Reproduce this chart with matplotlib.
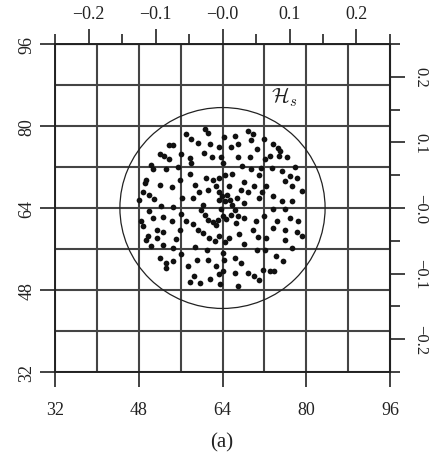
import matplotlib
matplotlib.use("Agg")
import matplotlib.pyplot as plt
from matplotlib.patches import Circle

plt.rcParams["font.family"] = ["Liberation Serif", "DejaVu Serif"]
plt.rcParams["mathtext.fontset"] = "cm"

# sample positions (grid units)
sample_x = [
    # upper left
    60.7, 61.2, 57.0, 58.0, 59.3, 61.7, 63.3, 53.8, 54.6, 52.1, 52.8, 53.8, 57.8, 60.4, 61.9, 63.7,
    50.4, 50.7, 53.3, 55.5, 49.4, 49.1, 52.0, 54.3, 55.9, 48.8, 49.9, 51.0, 48.1, 52.3, 54.6,
    # upper right
    68.8, 69.8, 66.3, 69.5, 65.6, 70.5, 66.9, 69.2, 73.7, 74.6, 75.0, 73.0, 74.8, 76.3, 71.4,
    72.4, 73.4, 75.3, 76.9, 75.9, 78.2, 77.2, 79.2, 73.7, 75.3, 77.2,
    # lower left
    48.5, 48.9, 50.8, 52.6, 54.3, 51.4, 52.6, 49.7, 49.3, 51.4, 50.4, 52.6, 54.6, 55.9, 52.0,
    53.2, 53.3, 54.6, 57.5, 59.1, 61.2, 58.5, 57.7, 59.7, 61.7, 63.5,
    # lower right
    73.7, 75.9, 76.9, 78.5, 73.7, 75.9, 78.2, 79.2, 72.4, 77.2, 64.3, 66.3, 67.5, 66.3, 68.8,
    70.1, 71.0, 66.9, 74.3, 75.6, 71.7, 73.0, 73.8,
    # centre
    57.7, 60.9, 62.1, 63.4, 64.4, 65.9, 69.4, 71.0, 68.2, 58.7, 58.3, 59.6, 61.2, 63.3, 63.9,
    63.4, 64.5, 65.4, 65.9, 66.3, 65.6, 64.7, 59.9, 60.6, 61.2, 62.1, 63.1, 64.0, 63.7, 67.5,
    68.8, 70.1, 71.0, 71.6, 57.1, 58.3, 59.3, 60.2, 61.5, 62.5, 58.7, 66.6, 68.2, 70.4, 67.2,
    65.3, 63.4, 64.4, 68.2, 69.8, 70.8, 65.3, 66.8, 68.2,
    # on the grid lines
    56.0, 56.2, 56.0, 56.1, 64.2, 64.0, 64.1, 64.0, 72.0, 72.2, 72.0, 72.1, 67.8, 77.8, 61.0,
    70.5, 62.8, 63.4, 62.7, 64.9, 60.2, 62.7, 66.9, 50.0, 55.2, 76.0, 74.5, 58.0, 67.0,
]
sample_y = [
    79.5, 78.7, 78.4, 77.5, 76.6, 76.4, 75.9, 76.2, 76.2, 74.5, 74.1, 73.5, 73.8, 74.7, 74.0, 74.0,
    72.3, 71.6, 71.7, 72.0, 69.4, 68.8, 68.4, 68.1, 69.4, 67.1, 66.5, 65.8, 65.6, 64.4, 64.2,
    79.1, 78.4, 78.0, 77.2, 75.9, 75.5, 74.0, 73.9, 76.5, 75.7, 75.1, 74.2, 74.2, 73.9, 71.9,
    68.3, 71.9, 71.3, 70.3, 69.3, 69.8, 68.3, 67.3, 66.3, 65.3, 65.3,
    61.4, 60.4, 62.0, 62.3, 61.5, 59.7, 59.3, 58.5, 57.8, 58.1, 56.5, 56.8, 56.2, 59.7, 54.3,
    53.3, 52.3, 53.7, 52.6, 53.9, 53.9, 50.7, 49.6, 49.4, 50.1, 49.1,
    63.8, 63.8, 62.0, 61.4, 60.1, 59.7, 59.4, 58.5, 58.1, 56.2, 53.9, 54.3, 53.3, 51.4, 51.4,
    50.7, 49.9, 48.8, 54.6, 53.7, 52.0, 51.7, 51.7,
    70.7, 69.8, 69.4, 69.8, 70.4, 70.7, 71.7, 70.4, 69.1, 68.5, 65.9, 67.2, 67.5, 67.2, 66.4,
    65.6, 65.3, 65.6, 64.6, 63.7, 62.7, 61.9, 63.7, 62.7, 61.7, 61.3, 61.7, 62.4, 63.9, 67.5,
    67.1, 68.3, 65.9, 67.2, 61.4, 60.8, 59.8, 59.2, 58.2, 57.6, 56.4, 61.1, 62.1, 61.4, 58.9,
    58.2, 58.5, 57.3, 56.9, 59.7, 58.3, 68.3, 66.0, 65.0,
    74.5, 66.0, 62.8, 55.0, 77.8, 72.8, 55.2, 51.8, 77.5, 73.5, 62.5, 55.8, 72.2, 72.0, 55.8,
    55.8, 52.6, 51.2, 68.2, 66.6, 64.6, 60.6, 62.4, 63.5, 58.0, 57.8, 61.5, 72.8, 76.5,
]

x_major = [32, 48, 64, 80, 96]
grid_lines = [32, 40, 48, 56, 64, 72, 80, 88, 96]
freq_major = [-0.2, -0.1, 0.0, 0.1, 0.2]
freq_minor = [-0.25, -0.15, -0.05, 0.05, 0.15, 0.25]
freq_labels = ["\u22120.2", "\u22120.1", "\u22120.0", "0.1", "0.2"]
centre = (64, 64)
radius = 19.6

fig = plt.figure(figsize=(4.3, 4.64), dpi=100)
ax = fig.add_axes([55 / 430, 91 / 464, 335 / 430, 328 / 464])
ax.set_xlim(32, 96)
ax.set_ylim(32, 96)

for g in grid_lines:
    ax.axvline(g, color="#444444", lw=1.5, zorder=1)
    ax.axhline(g, color="#444444", lw=1.5, zorder=1)

ax.add_patch(Circle(centre, radius, fill=False, ec="#222222", lw=0.9, zorder=2))
ax.scatter(sample_x, sample_y, s=17, c="#111111", lw=0, zorder=3)
ax.text(75.9, 85.9, r"$\mathcal{H}_s$", fontsize=15, ha="center", va="center", color="#222222")

for s in ax.spines.values():
    s.set_linewidth(1.4)
    s.set_color("#222222")

ax.set_xticks(x_major)
ax.set_yticks(x_major)
ax.set_xticklabels([str(v) for v in x_major])
ax.set_yticklabels([str(v) for v in x_major], rotation=90, va="center")
ax.tick_params(direction="out", length=11, width=1.2, labelsize=13, colors="#222222")
ax.tick_params(axis="x", pad=10)
ax.tick_params(axis="y", pad=3)

to_f = lambda v: (v - 64) / 128
to_v = lambda f: 64 + 128 * f

top = ax.secondary_xaxis("top", functions=(to_f, to_v))
top.set_xticks(freq_major)
top.set_xticklabels(freq_labels)
top.set_xticks(freq_minor, minor=True)
top.tick_params(which="major", direction="out", length=11, width=1.2, labelsize=13, pad=5, colors="#222222")
top.tick_params(which="minor", direction="out", length=7, width=1.2, colors="#222222")

right = ax.secondary_yaxis("right", functions=(to_f, to_v))
right.set_yticks(freq_major)
right.set_yticklabels(freq_labels, rotation=270, va="center")
right.set_yticks(freq_minor, minor=True)
right.tick_params(which="major", direction="out", length=11, width=1.2, labelsize=12, pad=5, colors="#222222")
right.tick_params(which="minor", direction="out", length=7, width=1.2, colors="#222222")

fig.text(222 / 430, 1 - 443 / 464, "(a)", fontsize=15, ha="center", va="center", color="#222222")

fig.savefig("out.png", dpi=100)
